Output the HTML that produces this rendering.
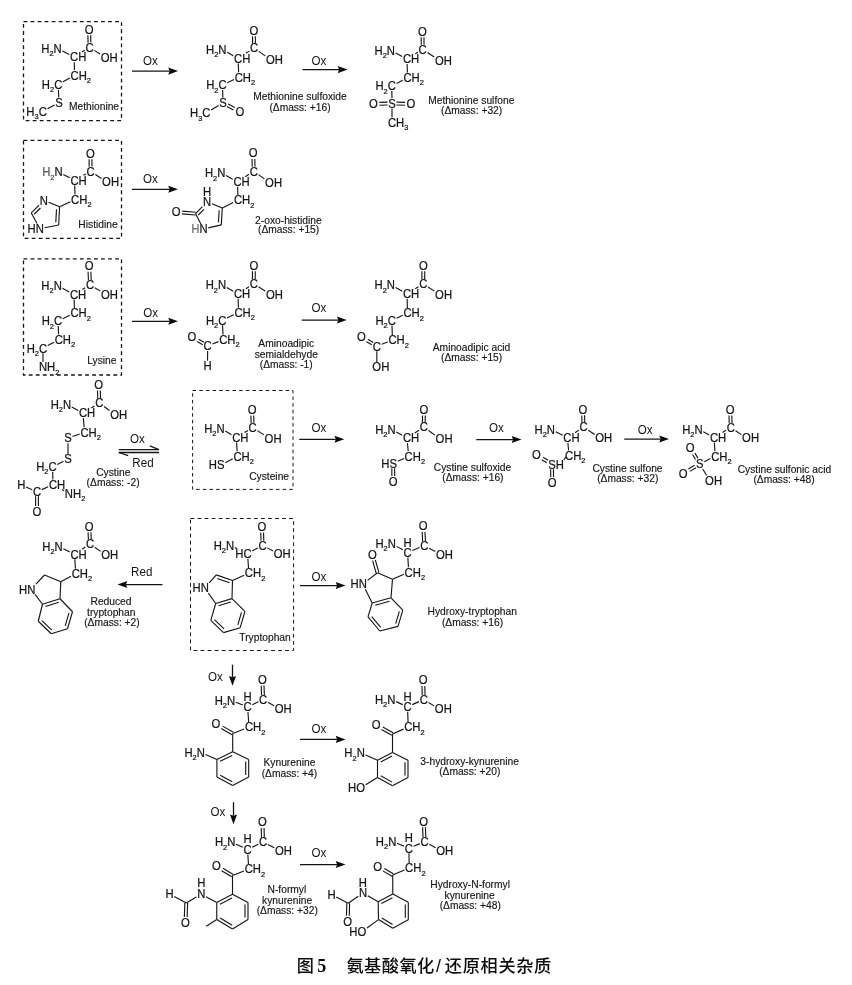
<!DOCTYPE html>
<html lang="zh">
<head>
<meta charset="utf-8">
<title>图5 氨基酸氧化/还原相关杂质</title>
<style>
html,body{margin:0;padding:0;background:#fff;}
body{width:852px;height:985px;overflow:hidden;}
svg{display:block;will-change:transform;}
svg line{stroke:#141414;stroke-linecap:butt;}
svg text{fill:#141414;font-family:"Liberation Sans","Noto Sans CJK SC",sans-serif;}
.a{font-size:11.3px;stroke:#141414;stroke-width:0.22px;}
.s{font-size:7.4px;}
.l{font-size:10.25px;stroke:#1a1a1a;stroke-width:0.15px;}
.o{font-size:11.6px;}
.fig{font-size:17.2px;font-weight:bold;fill:#0c0c0c;}
.cj.fig{font-weight:500;}
.cj{font-family:"Liberation Sans","Noto Sans CJK SC",sans-serif;}
.num{font-family:"Liberation Serif","Noto Serif CJK SC",serif;font-size:18px;}
.sl{font-family:"Liberation Sans","Noto Sans CJK SC",sans-serif;font-weight:normal;font-size:18px;}
</style>
</head>
<body>
<svg width="852" height="985" viewBox="0 0 852 985">
<line x1="90.87" y1="42.59" x2="90.67" y2="35.13" stroke-width="1.12"/>
<line x1="88.07" y1="42.67" x2="87.87" y2="35.21" stroke-width="1.12"/>
<line x1="84.82" y1="50.25" x2="82.04" y2="52.03" stroke-width="1.12"/>
<line x1="94.38" y1="50.35" x2="100" y2="54.05" stroke-width="1.12"/>
<line x1="62.38" y1="50.99" x2="69.32" y2="54.61" stroke-width="1.12"/>
<line x1="74.24" y1="62.17" x2="74.46" y2="70.13" stroke-width="1.12"/>
<line x1="69.82" y1="77.94" x2="62.98" y2="81.86" stroke-width="1.12"/>
<line x1="58.43" y1="89.67" x2="58.77" y2="97.43" stroke-width="1.12"/>
<line x1="54.53" y1="104.94" x2="47.48" y2="108.79" stroke-width="1.12"/>
<text class="a" transform="translate(84.7 33.57) scale(1 1.08)">O</text>
<text class="a" transform="translate(85.52 51.57) scale(1 1.08)">C</text>
<text class="a" transform="translate(41.25 52.87) scale(1 1.08)">H<tspan class="s" dy="2.9">2</tspan><tspan dy="-2.9">N</tspan></text>
<text class="a" transform="translate(70.02 61.47) scale(1 1.08)">CH</text>
<text class="a" transform="translate(100.7 61.77) scale(1 1.08)">OH</text>
<text class="a" transform="translate(70.52 79.57) scale(1 1.08)">CH<tspan class="s" dy="2.9">2</tspan></text>
<text class="a" transform="translate(41.85 88.97) scale(1 1.08)">H<tspan class="s" dy="2.9">2</tspan><tspan dy="-2.9">C</tspan></text>
<text class="a" transform="translate(55.23 106.87) scale(1 1.08)">S</text>
<text class="a" transform="translate(26.35 115.77) scale(1 1.08)">H<tspan class="s" dy="2.9">3</tspan><tspan dy="-2.9">C</tspan></text>
<line x1="255.37" y1="43.42" x2="255.33" y2="36.16" stroke-width="1.12"/>
<line x1="252.57" y1="43.44" x2="252.53" y2="36.18" stroke-width="1.12"/>
<line x1="249.22" y1="51.13" x2="245.85" y2="53.33" stroke-width="1.12"/>
<line x1="258.78" y1="51.37" x2="265.2" y2="55.9" stroke-width="1.12"/>
<line x1="227.18" y1="52.28" x2="233.32" y2="55.72" stroke-width="1.12"/>
<line x1="238.29" y1="63.47" x2="238.61" y2="72.23" stroke-width="1.12"/>
<line x1="234.02" y1="79.56" x2="227.28" y2="82.74" stroke-width="1.12"/>
<line x1="222.64" y1="90.07" x2="222.86" y2="97.73" stroke-width="1.12"/>
<line x1="218.53" y1="105.55" x2="211.18" y2="110.06" stroke-width="1.12"/>
<line x1="226.8" y1="106.45" x2="233.45" y2="110.05" stroke-width="1.12"/>
<line x1="228.13" y1="103.99" x2="234.78" y2="107.58" stroke-width="1.12"/>
<text class="a" transform="translate(249.5 34.57) scale(1 1.08)">O</text>
<text class="a" transform="translate(249.92 52.37) scale(1 1.08)">C</text>
<text class="a" transform="translate(206.05 53.97) scale(1 1.08)">H<tspan class="s" dy="2.9">2</tspan><tspan dy="-2.9">N</tspan></text>
<text class="a" transform="translate(234.02 62.77) scale(1 1.08)">CH</text>
<text class="a" transform="translate(265.9 63.87) scale(1 1.08)">OH</text>
<text class="a" transform="translate(234.72 81.67) scale(1 1.08)">CH<tspan class="s" dy="2.9">2</tspan></text>
<text class="a" transform="translate(206.15 89.37) scale(1 1.08)">H<tspan class="s" dy="2.9">2</tspan><tspan dy="-2.9">C</tspan></text>
<text class="a" transform="translate(219.23 107.17) scale(1 1.08)">S</text>
<text class="a" transform="translate(190.05 117.37) scale(1 1.08)">H<tspan class="s" dy="2.9">3</tspan><tspan dy="-2.9">C</tspan></text>
<text class="a" transform="translate(235.6 116.37) scale(1 1.08)">O</text>
<line x1="424.05" y1="44.72" x2="423.97" y2="37.2" stroke-width="1.12"/>
<line x1="421.25" y1="44.75" x2="421.17" y2="37.23" stroke-width="1.12"/>
<line x1="417.92" y1="52.22" x2="415.29" y2="53.83" stroke-width="1.12"/>
<line x1="427.48" y1="52.5" x2="434.2" y2="56.99" stroke-width="1.12"/>
<line x1="395.68" y1="52.99" x2="402.22" y2="56.41" stroke-width="1.12"/>
<line x1="407.13" y1="63.97" x2="407.37" y2="72.63" stroke-width="1.12"/>
<line x1="402.72" y1="80.23" x2="396.58" y2="83.47" stroke-width="1.12"/>
<line x1="391.86" y1="91.07" x2="391.94" y2="98.33" stroke-width="1.12"/>
<line x1="387.49" y1="102.14" x2="379.35" y2="102.41" stroke-width="1.12"/>
<line x1="387.58" y1="104.94" x2="379.44" y2="105.21" stroke-width="1.12"/>
<line x1="396.42" y1="104.94" x2="404.96" y2="105.21" stroke-width="1.12"/>
<line x1="396.51" y1="102.14" x2="405.05" y2="102.41" stroke-width="1.12"/>
<line x1="392" y1="108.47" x2="392" y2="117.43" stroke-width="1.12"/>
<text class="a" transform="translate(418.1 35.62) scale(1 1.08)">O</text>
<text class="a" transform="translate(418.62 53.67) scale(1 1.08)">C</text>
<text class="a" transform="translate(374.55 54.87) scale(1 1.08)">H<tspan class="s" dy="2.9">2</tspan><tspan dy="-2.9">N</tspan></text>
<text class="a" transform="translate(402.92 63.27) scale(1 1.08)">CH</text>
<text class="a" transform="translate(434.9 64.77) scale(1 1.08)">OH</text>
<text class="a" transform="translate(403.42 82.07) scale(1 1.08)">CH<tspan class="s" dy="2.9">2</tspan></text>
<text class="a" transform="translate(375.45 90.37) scale(1 1.08)">H<tspan class="s" dy="2.9">2</tspan><tspan dy="-2.9">C</tspan></text>
<text class="a" transform="translate(388.23 107.77) scale(1 1.08)">S</text>
<text class="a" transform="translate(369 108.37) scale(1 1.08)">O</text>
<text class="a" transform="translate(406.6 108.37) scale(1 1.08)">O</text>
<text class="a" transform="translate(387.92 126.87) scale(1 1.08)">CH<tspan class="s" dy="2.9">3</tspan></text>
<line x1="91.97" y1="166.62" x2="91.93" y2="159.16" stroke-width="1.12"/>
<line x1="89.17" y1="166.64" x2="89.13" y2="159.18" stroke-width="1.12"/>
<line x1="85.82" y1="173.9" x2="83.47" y2="175.23" stroke-width="1.12"/>
<line x1="95.38" y1="174.42" x2="101.4" y2="178.47" stroke-width="1.12"/>
<line x1="63.28" y1="174.48" x2="69.72" y2="177.82" stroke-width="1.12"/>
<line x1="74.68" y1="185.37" x2="75.02" y2="194.43" stroke-width="1.12"/>
<line x1="70.42" y1="201.74" x2="59.6" y2="206.8" stroke-width="1.12"/>
<line x1="59.6" y1="206.8" x2="48.68" y2="202.28" stroke-width="1.12"/>
<line x1="39.12" y1="205.08" x2="31.3" y2="212.9" stroke-width="1.12"/>
<line x1="40.46" y1="207.98" x2="34.2" y2="214.24" stroke-width="1.12"/>
<line x1="31.3" y1="212.9" x2="37.06" y2="223.53" stroke-width="1.12"/>
<line x1="44.58" y1="227.69" x2="58.7" y2="225" stroke-width="1.12"/>
<line x1="58.7" y1="225" x2="59.6" y2="206.8" stroke-width="1.12"/>
<line x1="55.83" y1="222.3" x2="56.48" y2="209.2" stroke-width="1.12"/>
<text class="a" transform="translate(86.1 157.57) scale(1 1.08)">O</text>
<text class="a" transform="translate(86.52 175.57) scale(1 1.08)">C</text>
<text class="a" transform="translate(42.15 176.37) scale(1 1.08)" fill="#111"><tspan fill="#7a7a7a">H</tspan><tspan fill="#7a7a7a" class="s" dy="2.9">2</tspan><tspan dy="-2.9">N</tspan></text>
<text class="a" transform="translate(70.42 184.67) scale(1 1.08)">CH</text>
<text class="a" transform="translate(102.1 186.27) scale(1 1.08)">OH</text>
<text class="a" transform="translate(71.12 203.87) scale(1 1.08)">CH<tspan class="s" dy="2.9">2</tspan></text>
<text class="a" transform="translate(39.82 204.67) scale(1 1.08)">N</text>
<text class="a" transform="translate(27.56 232.97) scale(1 1.08)">HN</text>
<line x1="255.02" y1="166.64" x2="254.81" y2="158.93" stroke-width="1.12"/>
<line x1="252.23" y1="166.72" x2="252.01" y2="159.01" stroke-width="1.12"/>
<line x1="248.97" y1="174.34" x2="245.34" y2="176.68" stroke-width="1.12"/>
<line x1="258.53" y1="174.66" x2="264.4" y2="178.86" stroke-width="1.12"/>
<line x1="226.03" y1="175.57" x2="232.72" y2="179.18" stroke-width="1.12"/>
<line x1="237.64" y1="186.82" x2="237.86" y2="194.93" stroke-width="1.12"/>
<line x1="233.22" y1="202.44" x2="222.3" y2="208" stroke-width="1.12"/>
<line x1="222.3" y1="208" x2="211.98" y2="203.76" stroke-width="1.12"/>
<line x1="202.42" y1="206.62" x2="195.5" y2="213.6" stroke-width="1.12"/>
<line x1="203.86" y1="209.43" x2="198.32" y2="215.01" stroke-width="1.12"/>
<line x1="195.5" y1="213.6" x2="200.87" y2="223.93" stroke-width="1.12"/>
<line x1="208.28" y1="227.9" x2="221.3" y2="224.9" stroke-width="1.12"/>
<line x1="221.3" y1="224.9" x2="222.3" y2="208" stroke-width="1.12"/>
<line x1="218.45" y1="222.36" x2="219.17" y2="210.19" stroke-width="1.12"/>
<line x1="195.62" y1="212.2" x2="182.21" y2="211.1" stroke-width="1.12"/>
<line x1="195.38" y1="215" x2="181.98" y2="213.89" stroke-width="1.12"/>
<text class="a" transform="translate(248.85 157.37) scale(1 1.08)">O</text>
<text class="a" transform="translate(249.67 175.62) scale(1 1.08)">C</text>
<text class="a" transform="translate(204.9 177.37) scale(1 1.08)">H<tspan class="s" dy="2.9">2</tspan><tspan dy="-2.9">N</tspan></text>
<text class="a" transform="translate(233.42 186.12) scale(1 1.08)">CH</text>
<text class="a" transform="translate(265.1 186.87) scale(1 1.08)">OH</text>
<text class="a" transform="translate(233.92 204.37) scale(1 1.08)">CH<tspan class="s" dy="2.9">2</tspan></text>
<text class="a" transform="translate(203.12 206.17) scale(1 1.08)">N</text>
<text class="a" transform="translate(191.26 233.37) scale(1 1.08)"><tspan fill="#9a9a9a">H</tspan>N</text>
<text class="a" transform="translate(171.7 216.37) scale(1 1.08)">O</text>
<text class="a" transform="translate(203.12 195.87) scale(1 1.08)">H</text>
<line x1="91.22" y1="280.18" x2="90.88" y2="271.71" stroke-width="1.12"/>
<line x1="88.42" y1="280.29" x2="88.09" y2="271.82" stroke-width="1.12"/>
<line x1="85.22" y1="287.7" x2="82.36" y2="289.43" stroke-width="1.12"/>
<line x1="94.78" y1="287.77" x2="100.2" y2="291.14" stroke-width="1.12"/>
<line x1="62.48" y1="288.28" x2="69.22" y2="291.92" stroke-width="1.12"/>
<line x1="74.14" y1="299.57" x2="74.36" y2="307.93" stroke-width="1.12"/>
<line x1="69.72" y1="315.32" x2="62.78" y2="318.68" stroke-width="1.12"/>
<line x1="58.21" y1="326.07" x2="58.54" y2="334.43" stroke-width="1.12"/>
<line x1="53.97" y1="342.14" x2="47.78" y2="345.56" stroke-width="1.12"/>
<line x1="43" y1="353.27" x2="43" y2="361.93" stroke-width="1.12"/>
<text class="a" transform="translate(84.85 270.17) scale(1 1.08)">O</text>
<text class="a" transform="translate(85.92 289.17) scale(1 1.08)">C</text>
<text class="a" transform="translate(41.35 290.07) scale(1 1.08)">H<tspan class="s" dy="2.9">2</tspan><tspan dy="-2.9">N</tspan></text>
<text class="a" transform="translate(69.92 298.87) scale(1 1.08)">CH</text>
<text class="a" transform="translate(100.9 298.67) scale(1 1.08)">OH</text>
<text class="a" transform="translate(70.42 317.37) scale(1 1.08)">CH<tspan class="s" dy="2.9">2</tspan></text>
<text class="a" transform="translate(41.65 325.37) scale(1 1.08)">H<tspan class="s" dy="2.9">2</tspan><tspan dy="-2.9">C</tspan></text>
<text class="a" transform="translate(54.67 343.87) scale(1 1.08)">CH<tspan class="s" dy="2.9">2</tspan></text>
<text class="a" transform="translate(26.65 352.57) scale(1 1.08)">H<tspan class="s" dy="2.9">2</tspan><tspan dy="-2.9">C</tspan></text>
<text class="a" transform="translate(38.92 371.37) scale(1 1.08)">NH<tspan class="s" dy="2.9">2</tspan></text>
<line x1="255.19" y1="279.19" x2="255.25" y2="271.28" stroke-width="1.12"/>
<line x1="252.39" y1="279.17" x2="252.45" y2="271.26" stroke-width="1.12"/>
<line x1="248.97" y1="286.78" x2="245.98" y2="288.68" stroke-width="1.12"/>
<line x1="258.53" y1="286.84" x2="265.3" y2="291.21" stroke-width="1.12"/>
<line x1="226.78" y1="287.61" x2="233.22" y2="291.14" stroke-width="1.12"/>
<line x1="238.14" y1="298.82" x2="238.36" y2="307.43" stroke-width="1.12"/>
<line x1="233.72" y1="314.77" x2="227.08" y2="317.93" stroke-width="1.12"/>
<line x1="222.55" y1="325.27" x2="223" y2="334.63" stroke-width="1.12"/>
<line x1="218.47" y1="341.64" x2="212.48" y2="344.06" stroke-width="1.12"/>
<line x1="204.05" y1="342.29" x2="198.57" y2="339.15" stroke-width="1.12"/>
<line x1="202.66" y1="344.72" x2="197.18" y2="341.58" stroke-width="1.12"/>
<line x1="207.65" y1="351.07" x2="207.55" y2="360.68" stroke-width="1.12"/>
<text class="a" transform="translate(249.5 269.67) scale(1 1.08)">O</text>
<text class="a" transform="translate(249.67 288.12) scale(1 1.08)">C</text>
<text class="a" transform="translate(205.65 289.37) scale(1 1.08)">H<tspan class="s" dy="2.9">2</tspan><tspan dy="-2.9">N</tspan></text>
<text class="a" transform="translate(233.92 298.12) scale(1 1.08)">CH</text>
<text class="a" transform="translate(266 298.87) scale(1 1.08)">OH</text>
<text class="a" transform="translate(234.42 316.87) scale(1 1.08)">CH<tspan class="s" dy="2.9">2</tspan></text>
<text class="a" transform="translate(205.95 324.57) scale(1 1.08)">H<tspan class="s" dy="2.9">2</tspan><tspan dy="-2.9">C</tspan></text>
<text class="a" transform="translate(219.17 344.07) scale(1 1.08)">CH<tspan class="s" dy="2.9">2</tspan></text>
<text class="a" transform="translate(203.62 350.37) scale(1 1.08)">C</text>
<text class="a" transform="translate(187.6 341.37) scale(1 1.08)">O</text>
<text class="a" transform="translate(203.42 370.12) scale(1 1.08)">H</text>
<line x1="424.69" y1="279.19" x2="424.75" y2="271.28" stroke-width="1.12"/>
<line x1="421.89" y1="279.17" x2="421.95" y2="271.26" stroke-width="1.12"/>
<line x1="418.47" y1="286.69" x2="415.24" y2="288.68" stroke-width="1.12"/>
<line x1="428.03" y1="286.91" x2="434.4" y2="291.13" stroke-width="1.12"/>
<line x1="395.68" y1="287.6" x2="402.22" y2="291.15" stroke-width="1.12"/>
<line x1="407.13" y1="298.82" x2="407.37" y2="307.93" stroke-width="1.12"/>
<line x1="402.72" y1="315.25" x2="396.58" y2="318.15" stroke-width="1.12"/>
<line x1="391.98" y1="325.47" x2="392.32" y2="334.93" stroke-width="1.12"/>
<line x1="387.72" y1="341.9" x2="381.68" y2="344.3" stroke-width="1.12"/>
<line x1="373.26" y1="342.43" x2="367.88" y2="339.26" stroke-width="1.12"/>
<line x1="371.84" y1="344.84" x2="366.46" y2="341.67" stroke-width="1.12"/>
<line x1="376.86" y1="351.27" x2="376.79" y2="361.93" stroke-width="1.12"/>
<text class="a" transform="translate(419 269.67) scale(1 1.08)">O</text>
<text class="a" transform="translate(419.17 288.12) scale(1 1.08)">C</text>
<text class="a" transform="translate(374.55 289.37) scale(1 1.08)">H<tspan class="s" dy="2.9">2</tspan><tspan dy="-2.9">N</tspan></text>
<text class="a" transform="translate(402.92 298.12) scale(1 1.08)">CH</text>
<text class="a" transform="translate(435.1 298.87) scale(1 1.08)">OH</text>
<text class="a" transform="translate(403.42 317.37) scale(1 1.08)">CH<tspan class="s" dy="2.9">2</tspan></text>
<text class="a" transform="translate(375.45 324.77) scale(1 1.08)">H<tspan class="s" dy="2.9">2</tspan><tspan dy="-2.9">C</tspan></text>
<text class="a" transform="translate(388.42 344.37) scale(1 1.08)">CH<tspan class="s" dy="2.9">2</tspan></text>
<text class="a" transform="translate(372.82 350.57) scale(1 1.08)">C</text>
<text class="a" transform="translate(356.9 341.37) scale(1 1.08)">O</text>
<text class="a" transform="translate(372.35 371.37) scale(1 1.08)">OH</text>
<line x1="100.53" y1="398.39" x2="100.31" y2="390.43" stroke-width="1.12"/>
<line x1="97.73" y1="398.47" x2="97.51" y2="390.51" stroke-width="1.12"/>
<line x1="94.47" y1="405.94" x2="91.24" y2="407.93" stroke-width="1.12"/>
<line x1="104.03" y1="406.5" x2="109.5" y2="410.52" stroke-width="1.12"/>
<line x1="71.78" y1="407.11" x2="78.22" y2="410.49" stroke-width="1.12"/>
<line x1="83.39" y1="418.07" x2="84.11" y2="427.23" stroke-width="1.12"/>
<line x1="79.72" y1="433.98" x2="72.47" y2="436.53" stroke-width="1.12"/>
<line x1="68" y1="443.17" x2="68" y2="453.93" stroke-width="1.12"/>
<line x1="63.53" y1="461.25" x2="57.28" y2="464.39" stroke-width="1.12"/>
<line x1="52.64" y1="471.87" x2="52.86" y2="479.43" stroke-width="1.12"/>
<line x1="61.86" y1="489.57" x2="64.12" y2="490.86" stroke-width="1.12"/>
<line x1="48.22" y1="486.68" x2="41.78" y2="489.62" stroke-width="1.12"/>
<line x1="32.22" y1="489.74" x2="26.03" y2="487.06" stroke-width="1.12"/>
<line x1="35.6" y1="496.37" x2="35.6" y2="506.03" stroke-width="1.12"/>
<line x1="38.4" y1="496.37" x2="38.4" y2="506.03" stroke-width="1.12"/>
<text class="a" transform="translate(94.35 388.87) scale(1 1.08)">O</text>
<text class="a" transform="translate(95.17 407.37) scale(1 1.08)">C</text>
<text class="a" transform="translate(50.65 408.97) scale(1 1.08)">H<tspan class="s" dy="2.9">2</tspan><tspan dy="-2.9">N</tspan></text>
<text class="a" transform="translate(78.92 417.37) scale(1 1.08)">CH</text>
<text class="a" transform="translate(110.2 418.62) scale(1 1.08)">OH</text>
<text class="a" transform="translate(80.42 436.67) scale(1 1.08)">CH<tspan class="s" dy="2.9">2</tspan></text>
<text class="a" transform="translate(64.23 442.47) scale(1 1.08)">S</text>
<text class="a" transform="translate(64.23 463.37) scale(1 1.08)">S</text>
<text class="a" transform="translate(36.15 471.17) scale(1 1.08)">H<tspan class="s" dy="2.9">2</tspan><tspan dy="-2.9">C</tspan></text>
<text class="a" transform="translate(48.92 488.87) scale(1 1.08)">CH</text>
<text class="a" transform="translate(64.82 497.97) scale(1 1.08)">NH<tspan class="s" dy="2.9">2</tspan></text>
<text class="a" transform="translate(32.92 496.17) scale(1 1.08)">C</text>
<text class="a" transform="translate(17.17 489.37) scale(1 1.08)">H</text>
<text class="a" transform="translate(32.6 516.37) scale(1 1.08)">O</text>
<line x1="253.95" y1="422.88" x2="253.7" y2="415.52" stroke-width="1.12"/>
<line x1="251.15" y1="422.98" x2="250.9" y2="415.62" stroke-width="1.12"/>
<line x1="247.92" y1="430.41" x2="244.59" y2="432.43" stroke-width="1.12"/>
<line x1="257.48" y1="430.64" x2="263.9" y2="434.85" stroke-width="1.12"/>
<line x1="225.28" y1="431.09" x2="231.47" y2="434.71" stroke-width="1.12"/>
<line x1="236.59" y1="442.57" x2="237.16" y2="451.18" stroke-width="1.12"/>
<line x1="232.72" y1="458.75" x2="225.22" y2="462.67" stroke-width="1.12"/>
<text class="a" transform="translate(247.7 413.97) scale(1 1.08)">O</text>
<text class="a" transform="translate(248.62 431.87) scale(1 1.08)">C</text>
<text class="a" transform="translate(204.15 432.67) scale(1 1.08)">H<tspan class="s" dy="2.9">2</tspan><tspan dy="-2.9">N</tspan></text>
<text class="a" transform="translate(232.17 441.87) scale(1 1.08)">CH</text>
<text class="a" transform="translate(264.6 442.57) scale(1 1.08)">OH</text>
<text class="a" transform="translate(233.42 460.62) scale(1 1.08)">CH<tspan class="s" dy="2.9">2</tspan></text>
<text class="a" transform="translate(208.82 469.37) scale(1 1.08)">HS</text>
<line x1="425.19" y1="422.54" x2="425.25" y2="415.48" stroke-width="1.12"/>
<line x1="422.39" y1="422.52" x2="422.45" y2="415.46" stroke-width="1.12"/>
<line x1="418.97" y1="430.24" x2="414.72" y2="433.03" stroke-width="1.12"/>
<line x1="428.53" y1="430.53" x2="434.9" y2="435.1" stroke-width="1.12"/>
<line x1="396.28" y1="431.94" x2="402.22" y2="435.36" stroke-width="1.12"/>
<line x1="407.47" y1="443.17" x2="408.23" y2="451.18" stroke-width="1.12"/>
<line x1="403.92" y1="458.42" x2="397.72" y2="461.23" stroke-width="1.12"/>
<line x1="391.85" y1="468.32" x2="391.85" y2="476.03" stroke-width="1.12"/>
<line x1="394.65" y1="468.32" x2="394.65" y2="476.03" stroke-width="1.12"/>
<text class="a" transform="translate(419.5 413.87) scale(1 1.08)">O</text>
<text class="a" transform="translate(419.67 431.47) scale(1 1.08)">C</text>
<text class="a" transform="translate(375.15 433.57) scale(1 1.08)">H<tspan class="s" dy="2.9">2</tspan><tspan dy="-2.9">N</tspan></text>
<text class="a" transform="translate(402.92 442.47) scale(1 1.08)">CH</text>
<text class="a" transform="translate(435.6 443.12) scale(1 1.08)">OH</text>
<text class="a" transform="translate(404.62 460.62) scale(1 1.08)">CH<tspan class="s" dy="2.9">2</tspan></text>
<text class="a" transform="translate(381.32 467.62) scale(1 1.08)">HS</text>
<text class="a" transform="translate(388.85 486.37) scale(1 1.08)">O</text>
<line x1="584.77" y1="422.49" x2="584.57" y2="415.33" stroke-width="1.12"/>
<line x1="581.97" y1="422.57" x2="581.77" y2="415.41" stroke-width="1.12"/>
<line x1="578.72" y1="430.28" x2="575.03" y2="432.73" stroke-width="1.12"/>
<line x1="588.28" y1="430.32" x2="594.6" y2="434.57" stroke-width="1.12"/>
<line x1="555.68" y1="431.76" x2="562.62" y2="435.34" stroke-width="1.12"/>
<line x1="567.88" y1="442.87" x2="568.62" y2="450.53" stroke-width="1.12"/>
<line x1="548.25" y1="460.34" x2="543.08" y2="457.28" stroke-width="1.12"/>
<line x1="546.82" y1="462.75" x2="541.66" y2="459.69" stroke-width="1.12"/>
<line x1="550.65" y1="469.28" x2="550.74" y2="477.15" stroke-width="1.12"/>
<line x1="553.45" y1="469.25" x2="553.54" y2="477.12" stroke-width="1.12"/>
<text class="a" transform="translate(578.6 413.77) scale(1 1.08)">O</text>
<text class="a" transform="translate(579.42 431.47) scale(1 1.08)">C</text>
<text class="a" transform="translate(534.55 433.67) scale(1 1.08)">H<tspan class="s" dy="2.9">2</tspan><tspan dy="-2.9">N</tspan></text>
<text class="a" transform="translate(563.32 442.17) scale(1 1.08)">CH</text>
<text class="a" transform="translate(595.3 442.37) scale(1 1.08)">OH</text>
<text class="a" transform="translate(565.02 459.97) scale(1 1.08)">CH<tspan class="s" dy="2.9">2</tspan></text>
<text class="a" transform="translate(548.23 468.57) scale(1 1.08)">SH</text>
<text class="a" transform="translate(532.1 459.37) scale(1 1.08)">O</text>
<text class="a" transform="translate(547.8 487.47) scale(1 1.08)">O</text>
<line x1="563.7" y1="459.8" x2="566.1" y2="456.9" stroke-width="1.12"/>
<line x1="732.02" y1="422.89" x2="731.82" y2="415.43" stroke-width="1.12"/>
<line x1="729.22" y1="422.97" x2="729.02" y2="415.51" stroke-width="1.12"/>
<line x1="725.97" y1="430.35" x2="722.49" y2="432.43" stroke-width="1.12"/>
<line x1="735.53" y1="430.69" x2="741.4" y2="434.6" stroke-width="1.12"/>
<line x1="703.28" y1="431.79" x2="709.22" y2="434.96" stroke-width="1.12"/>
<line x1="714.34" y1="442.57" x2="714.91" y2="451.18" stroke-width="1.12"/>
<line x1="710.47" y1="458.61" x2="704.22" y2="461.69" stroke-width="1.12"/>
<line x1="697.92" y1="458.11" x2="694.94" y2="453.12" stroke-width="1.12"/>
<line x1="695.52" y1="459.55" x2="692.54" y2="454.56" stroke-width="1.12"/>
<line x1="694.57" y1="465.31" x2="688.36" y2="468.95" stroke-width="1.12"/>
<line x1="695.99" y1="467.73" x2="689.78" y2="471.37" stroke-width="1.12"/>
<line x1="702.75" y1="468.97" x2="706.5" y2="475.33" stroke-width="1.12"/>
<text class="a" transform="translate(725.85 413.87) scale(1 1.08)">O</text>
<text class="a" transform="translate(726.67 431.87) scale(1 1.08)">C</text>
<text class="a" transform="translate(682.15 433.62) scale(1 1.08)">H<tspan class="s" dy="2.9">2</tspan><tspan dy="-2.9">N</tspan></text>
<text class="a" transform="translate(709.92 441.87) scale(1 1.08)">CH</text>
<text class="a" transform="translate(742.1 442.37) scale(1 1.08)">OH</text>
<text class="a" transform="translate(711.17 460.62) scale(1 1.08)">CH<tspan class="s" dy="2.9">2</tspan></text>
<text class="a" transform="translate(695.98 468.27) scale(1 1.08)">S</text>
<text class="a" transform="translate(685.85 452.37) scale(1 1.08)">O</text>
<text class="a" transform="translate(678.8 477.97) scale(1 1.08)">O</text>
<text class="a" transform="translate(705.1 484.77) scale(1 1.08)">OH</text>
<line x1="91.2" y1="539.27" x2="90.9" y2="532.16" stroke-width="1.12"/>
<line x1="88.41" y1="539.39" x2="88.1" y2="532.28" stroke-width="1.12"/>
<line x1="85.22" y1="547.09" x2="82.09" y2="549.18" stroke-width="1.12"/>
<line x1="94.78" y1="547.28" x2="100.6" y2="551.4" stroke-width="1.12"/>
<line x1="63.38" y1="548.83" x2="69.72" y2="551.92" stroke-width="1.12"/>
<line x1="74.82" y1="559.32" x2="75.43" y2="568.68" stroke-width="1.12"/>
<line x1="70.97" y1="576.3" x2="60.75" y2="581.75" stroke-width="1.12"/>
<line x1="60.75" y1="581.75" x2="44.5" y2="575" stroke-width="1.12"/>
<line x1="44.5" y1="575" x2="35.96" y2="584.18" stroke-width="1.12"/>
<line x1="35.05" y1="594.32" x2="42.5" y2="604.25" stroke-width="1.12"/>
<line x1="42.5" y1="604.25" x2="60" y2="598.75" stroke-width="1.12"/>
<line x1="45.5" y1="606.45" x2="58.8" y2="602.27" stroke-width="1.12"/>
<line x1="60" y1="598.75" x2="60.75" y2="581.75" stroke-width="1.12"/>
<line x1="60" y1="598.75" x2="72.5" y2="611.75" stroke-width="1.12"/>
<line x1="72.5" y1="611.75" x2="67.5" y2="628.75" stroke-width="1.12"/>
<line x1="69.02" y1="612.94" x2="65.22" y2="625.86" stroke-width="1.12"/>
<line x1="67.5" y1="628.75" x2="51.25" y2="633.75" stroke-width="1.12"/>
<line x1="51.25" y1="633.75" x2="38.25" y2="621.25" stroke-width="1.12"/>
<line x1="51.77" y1="630.09" x2="41.89" y2="620.59" stroke-width="1.12"/>
<line x1="38.25" y1="621.25" x2="42.5" y2="604.25" stroke-width="1.12"/>
<text class="a" transform="translate(84.85 530.62) scale(1 1.08)">O</text>
<text class="a" transform="translate(85.92 548.27) scale(1 1.08)">C</text>
<text class="a" transform="translate(42.25 550.87) scale(1 1.08)">H<tspan class="s" dy="2.9">2</tspan><tspan dy="-2.9">N</tspan></text>
<text class="a" transform="translate(70.42 558.62) scale(1 1.08)">CH</text>
<text class="a" transform="translate(101.3 559.37) scale(1 1.08)">OH</text>
<text class="a" transform="translate(71.67 578.12) scale(1 1.08)">CH<tspan class="s" dy="2.9">2</tspan></text>
<text class="a" transform="translate(19.01 593.62) scale(1 1.08)">HN</text>
<line x1="263.78" y1="540.69" x2="263.56" y2="532.43" stroke-width="1.12"/>
<line x1="260.98" y1="540.77" x2="260.76" y2="532.51" stroke-width="1.12"/>
<line x1="257.72" y1="547.99" x2="252.28" y2="551.06" stroke-width="1.12"/>
<line x1="267.28" y1="547.87" x2="273.1" y2="551.01" stroke-width="1.12"/>
<line x1="234.78" y1="547.54" x2="237.12" y2="548.68" stroke-width="1.12"/>
<line x1="247.87" y1="558.82" x2="248.53" y2="567.93" stroke-width="1.12"/>
<line x1="244.12" y1="575.19" x2="232.5" y2="580.5" stroke-width="1.12"/>
<line x1="216.3" y1="574.9" x2="232.5" y2="580.5" stroke-width="1.12"/>
<line x1="217.26" y1="578.41" x2="229.58" y2="582.66" stroke-width="1.12"/>
<line x1="216.3" y1="574.9" x2="209.25" y2="582.93" stroke-width="1.12"/>
<line x1="208.36" y1="593.07" x2="215.7" y2="603.5" stroke-width="1.12"/>
<line x1="215.7" y1="603.5" x2="232" y2="598.6" stroke-width="1.12"/>
<line x1="218.52" y1="605.78" x2="230.91" y2="602.06" stroke-width="1.12"/>
<line x1="232" y1="598.6" x2="232.5" y2="580.5" stroke-width="1.12"/>
<line x1="232" y1="598.6" x2="244.9" y2="611.3" stroke-width="1.12"/>
<line x1="244.9" y1="611.3" x2="240.2" y2="627.7" stroke-width="1.12"/>
<line x1="241.45" y1="612.44" x2="237.88" y2="624.91" stroke-width="1.12"/>
<line x1="240.2" y1="627.7" x2="223.5" y2="632.6" stroke-width="1.12"/>
<line x1="223.5" y1="632.6" x2="210.8" y2="620.3" stroke-width="1.12"/>
<line x1="224.06" y1="628.97" x2="214.41" y2="619.62" stroke-width="1.12"/>
<line x1="210.8" y1="620.3" x2="215.7" y2="603.5" stroke-width="1.12"/>
<text class="a" transform="translate(257.6 530.87) scale(1 1.08)">O</text>
<text class="a" transform="translate(258.42 549.67) scale(1 1.08)">C</text>
<text class="a" transform="translate(213.65 549.57) scale(1 1.08)">H<tspan class="s" dy="2.9">2</tspan><tspan dy="-2.9">N</tspan></text>
<text class="a" transform="translate(235.26 558.12) scale(1 1.08)">HC</text>
<text class="a" transform="translate(273.8 558.12) scale(1 1.08)">OH</text>
<text class="a" transform="translate(244.82 577.37) scale(1 1.08)">CH<tspan class="s" dy="2.9">2</tspan></text>
<text class="a" transform="translate(192.56 592.37) scale(1 1.08)">HN</text>
<line x1="425.45" y1="541.06" x2="424.97" y2="531.89" stroke-width="1.12"/>
<line x1="422.66" y1="541.2" x2="422.17" y2="532.04" stroke-width="1.12"/>
<line x1="419.52" y1="547.59" x2="412.38" y2="550.41" stroke-width="1.12"/>
<line x1="429.08" y1="548.25" x2="435.2" y2="551.53" stroke-width="1.12"/>
<line x1="396.58" y1="546.37" x2="402.82" y2="549.73" stroke-width="1.12"/>
<line x1="407.88" y1="557.37" x2="408.42" y2="567.23" stroke-width="1.12"/>
<line x1="403.92" y1="574.34" x2="392.5" y2="579.2" stroke-width="1.12"/>
<line x1="392.5" y1="579.2" x2="377.5" y2="572.8" stroke-width="1.12"/>
<line x1="378.85" y1="572.42" x2="375.31" y2="559.81" stroke-width="1.12"/>
<line x1="376.15" y1="573.18" x2="372.62" y2="560.56" stroke-width="1.12"/>
<line x1="377.5" y1="572.8" x2="367.58" y2="580.43" stroke-width="1.12"/>
<line x1="365.32" y1="589.17" x2="372.2" y2="603" stroke-width="1.12"/>
<line x1="372.2" y1="603" x2="391" y2="597.8" stroke-width="1.12"/>
<line x1="375.26" y1="605.27" x2="389.54" y2="601.32" stroke-width="1.12"/>
<line x1="391" y1="597.8" x2="392.5" y2="579.2" stroke-width="1.12"/>
<line x1="391" y1="597.8" x2="402.8" y2="610.2" stroke-width="1.12"/>
<line x1="402.8" y1="610.2" x2="398" y2="626.4" stroke-width="1.12"/>
<line x1="399.35" y1="611.29" x2="395.7" y2="623.6" stroke-width="1.12"/>
<line x1="398" y1="626.4" x2="379.8" y2="631" stroke-width="1.12"/>
<line x1="379.8" y1="631" x2="368" y2="616.8" stroke-width="1.12"/>
<line x1="380.69" y1="627.38" x2="371.72" y2="616.59" stroke-width="1.12"/>
<line x1="368" y1="616.8" x2="372.2" y2="603" stroke-width="1.12"/>
<text class="a" transform="translate(418.85 530.37) scale(1 1.08)">O</text>
<text class="a" transform="translate(420.22 550.07) scale(1 1.08)">C</text>
<text class="a" transform="translate(375.45 548.17) scale(1 1.08)">H<tspan class="s" dy="2.9">2</tspan><tspan dy="-2.9">N</tspan></text>
<text class="a" transform="translate(403.52 556.67) scale(1 1.08)">C</text>
<text class="a" transform="translate(435.9 558.62) scale(1 1.08)">OH</text>
<text class="a" transform="translate(404.62 576.67) scale(1 1.08)">CH<tspan class="s" dy="2.9">2</tspan></text>
<text class="a" transform="translate(403.52 546.57) scale(1 1.08)">H</text>
<text class="a" transform="translate(367.9 558.62) scale(1 1.08)">O</text>
<text class="a" transform="translate(350.56 588.47) scale(1 1.08)">HN</text>
<line x1="264.34" y1="694.98" x2="264.01" y2="685.52" stroke-width="1.12"/>
<line x1="261.54" y1="695.08" x2="261.21" y2="685.62" stroke-width="1.12"/>
<line x1="258.32" y1="701.85" x2="252.38" y2="704.65" stroke-width="1.12"/>
<line x1="267.88" y1="702.24" x2="274.1" y2="705.68" stroke-width="1.12"/>
<line x1="235.78" y1="702.2" x2="242.82" y2="705" stroke-width="1.12"/>
<line x1="247.95" y1="711.97" x2="248.65" y2="721.93" stroke-width="1.12"/>
<line x1="244.22" y1="728.91" x2="232.7" y2="733.5" stroke-width="1.12"/>
<line x1="233.39" y1="732.28" x2="222.57" y2="726.13" stroke-width="1.12"/>
<line x1="232.01" y1="734.72" x2="221.19" y2="728.56" stroke-width="1.12"/>
<line x1="232.7" y1="733.5" x2="232.7" y2="751.8" stroke-width="1.12"/>
<line x1="232.7" y1="751.8" x2="216.9" y2="759.4" stroke-width="1.12"/>
<line x1="232.1" y1="755.42" x2="220.1" y2="761.19" stroke-width="1.12"/>
<line x1="216.9" y1="759.4" x2="216.9" y2="777" stroke-width="1.12"/>
<line x1="216.9" y1="777" x2="232.7" y2="785.4" stroke-width="1.12"/>
<line x1="220.2" y1="775.36" x2="232.21" y2="781.74" stroke-width="1.12"/>
<line x1="232.7" y1="785.4" x2="248.7" y2="777" stroke-width="1.12"/>
<line x1="248.7" y1="777" x2="248.7" y2="759.4" stroke-width="1.12"/>
<line x1="245.7" y1="774.89" x2="245.7" y2="761.51" stroke-width="1.12"/>
<line x1="248.7" y1="759.4" x2="232.7" y2="751.8" stroke-width="1.12"/>
<line x1="216.9" y1="759.4" x2="205.58" y2="754.55" stroke-width="1.12"/>
<text class="a" transform="translate(258 683.97) scale(1 1.08)">O</text>
<text class="a" transform="translate(259.02 703.97) scale(1 1.08)">C</text>
<text class="a" transform="translate(214.65 704.67) scale(1 1.08)">H<tspan class="s" dy="2.9">2</tspan><tspan dy="-2.9">N</tspan></text>
<text class="a" transform="translate(243.52 711.27) scale(1 1.08)">C</text>
<text class="a" transform="translate(274.8 712.87) scale(1 1.08)">OH</text>
<text class="a" transform="translate(244.92 731.37) scale(1 1.08)">CH<tspan class="s" dy="2.9">2</tspan></text>
<text class="a" transform="translate(243.52 700.77) scale(1 1.08)">H</text>
<text class="a" transform="translate(211.6 728.37) scale(1 1.08)">O</text>
<text class="a" transform="translate(184.45 756.87) scale(1 1.08)">H<tspan class="s" dy="2.9">2</tspan><tspan dy="-2.9">N</tspan></text>
<line x1="425.03" y1="694.89" x2="424.8" y2="685.93" stroke-width="1.12"/>
<line x1="422.23" y1="694.97" x2="422" y2="686" stroke-width="1.12"/>
<line x1="418.97" y1="701.63" x2="412.28" y2="704.62" stroke-width="1.12"/>
<line x1="428.53" y1="702.43" x2="434.15" y2="705.88" stroke-width="1.12"/>
<line x1="396.03" y1="701.63" x2="402.72" y2="704.62" stroke-width="1.12"/>
<line x1="407.69" y1="711.82" x2="408.06" y2="721.93" stroke-width="1.12"/>
<line x1="403.47" y1="729.12" x2="392.5" y2="734" stroke-width="1.12"/>
<line x1="393.18" y1="732.78" x2="382.81" y2="727.03" stroke-width="1.12"/>
<line x1="391.82" y1="735.22" x2="381.45" y2="729.48" stroke-width="1.12"/>
<line x1="392.5" y1="734" x2="392.5" y2="752.5" stroke-width="1.12"/>
<line x1="392.5" y1="752.5" x2="377.5" y2="760.2" stroke-width="1.12"/>
<line x1="392.07" y1="756.09" x2="380.67" y2="761.94" stroke-width="1.12"/>
<line x1="377.5" y1="760.2" x2="377.5" y2="777.5" stroke-width="1.12"/>
<line x1="377.5" y1="777.5" x2="392.5" y2="785.75" stroke-width="1.12"/>
<line x1="380.75" y1="775.86" x2="392.15" y2="782.13" stroke-width="1.12"/>
<line x1="392.5" y1="785.75" x2="408" y2="777.5" stroke-width="1.12"/>
<line x1="408" y1="777.5" x2="408" y2="760.2" stroke-width="1.12"/>
<line x1="405" y1="775.42" x2="405" y2="762.28" stroke-width="1.12"/>
<line x1="408" y1="760.2" x2="392.5" y2="752.5" stroke-width="1.12"/>
<line x1="377.5" y1="760.2" x2="365.48" y2="755.05" stroke-width="1.12"/>
<line x1="377.5" y1="777.5" x2="365.7" y2="784.83" stroke-width="1.12"/>
<text class="a" transform="translate(418.85 684.37) scale(1 1.08)">O</text>
<text class="a" transform="translate(419.67 703.87) scale(1 1.08)">C</text>
<text class="a" transform="translate(374.9 703.87) scale(1 1.08)">H<tspan class="s" dy="2.9">2</tspan><tspan dy="-2.9">N</tspan></text>
<text class="a" transform="translate(403.42 711.12) scale(1 1.08)">C</text>
<text class="a" transform="translate(434.85 713.37) scale(1 1.08)">OH</text>
<text class="a" transform="translate(404.17 731.37) scale(1 1.08)">CH<tspan class="s" dy="2.9">2</tspan></text>
<text class="a" transform="translate(403.42 700.77) scale(1 1.08)">H</text>
<text class="a" transform="translate(371.85 729.37) scale(1 1.08)">O</text>
<text class="a" transform="translate(344.35 757.37) scale(1 1.08)">H<tspan class="s" dy="2.9">2</tspan><tspan dy="-2.9">N</tspan></text>
<text class="a" transform="translate(348.05 792.37) scale(1 1.08)">HO</text>
<line x1="264.29" y1="837.4" x2="264.05" y2="827.93" stroke-width="1.12"/>
<line x1="261.49" y1="837.47" x2="261.25" y2="828" stroke-width="1.12"/>
<line x1="258.22" y1="844.28" x2="252.28" y2="847.12" stroke-width="1.12"/>
<line x1="267.78" y1="844.48" x2="274.3" y2="847.86" stroke-width="1.12"/>
<line x1="236.03" y1="844.18" x2="242.72" y2="847.22" stroke-width="1.12"/>
<line x1="247.82" y1="854.47" x2="248.43" y2="863.93" stroke-width="1.12"/>
<line x1="243.97" y1="870.94" x2="232.5" y2="875.6" stroke-width="1.12"/>
<line x1="233.22" y1="874.4" x2="222.99" y2="868.3" stroke-width="1.12"/>
<line x1="231.78" y1="876.8" x2="221.55" y2="870.7" stroke-width="1.12"/>
<line x1="232.5" y1="875.6" x2="232.5" y2="894.3" stroke-width="1.12"/>
<line x1="232.5" y1="894.3" x2="216.75" y2="902.5" stroke-width="1.12"/>
<line x1="232" y1="897.94" x2="220.03" y2="904.18" stroke-width="1.12"/>
<line x1="216.75" y1="902.5" x2="216.75" y2="919.5" stroke-width="1.12"/>
<line x1="216.75" y1="919.5" x2="232.5" y2="929" stroke-width="1.12"/>
<line x1="220.19" y1="918.07" x2="232.16" y2="925.29" stroke-width="1.12"/>
<line x1="232.5" y1="929" x2="248" y2="919.5" stroke-width="1.12"/>
<line x1="248" y1="919.5" x2="248" y2="902.5" stroke-width="1.12"/>
<line x1="245" y1="917.46" x2="245" y2="904.54" stroke-width="1.12"/>
<line x1="248" y1="902.5" x2="232.5" y2="894.3" stroke-width="1.12"/>
<line x1="216.75" y1="902.5" x2="206.03" y2="896.69" stroke-width="1.12"/>
<line x1="196.47" y1="896.94" x2="186.25" y2="903" stroke-width="1.12"/>
<line x1="186.25" y1="903" x2="174.28" y2="896.39" stroke-width="1.12"/>
<line x1="184.85" y1="902.95" x2="184.32" y2="916.98" stroke-width="1.12"/>
<line x1="187.65" y1="903.05" x2="187.12" y2="917.08" stroke-width="1.12"/>
<line x1="216.75" y1="919.5" x2="206.25" y2="926.25" stroke-width="1.12"/>
<text class="a" transform="translate(258.1 826.37) scale(1 1.08)">O</text>
<text class="a" transform="translate(258.92 846.37) scale(1 1.08)">C</text>
<text class="a" transform="translate(214.9 846.37) scale(1 1.08)">H<tspan class="s" dy="2.9">2</tspan><tspan dy="-2.9">N</tspan></text>
<text class="a" transform="translate(243.42 853.77) scale(1 1.08)">C</text>
<text class="a" transform="translate(275 854.87) scale(1 1.08)">OH</text>
<text class="a" transform="translate(244.67 873.37) scale(1 1.08)">CH<tspan class="s" dy="2.9">2</tspan></text>
<text class="a" transform="translate(243.42 843.37) scale(1 1.08)">H</text>
<text class="a" transform="translate(212 870.37) scale(1 1.08)">O</text>
<text class="a" transform="translate(197.17 898.47) scale(1 1.08)">N</text>
<text class="a" transform="translate(197.17 887.07) scale(1 1.08)">H</text>
<text class="a" transform="translate(165.42 898.12) scale(1 1.08)">H</text>
<text class="a" transform="translate(181.1 927.37) scale(1 1.08)">O</text>
<line x1="425.81" y1="836.97" x2="425.4" y2="827.16" stroke-width="1.12"/>
<line x1="423.01" y1="837.09" x2="422.6" y2="827.28" stroke-width="1.12"/>
<line x1="419.82" y1="843.61" x2="413.68" y2="846.19" stroke-width="1.12"/>
<line x1="429.38" y1="844.26" x2="435.5" y2="847.67" stroke-width="1.12"/>
<line x1="396.98" y1="843.24" x2="404.12" y2="846.21" stroke-width="1.12"/>
<line x1="408.98" y1="853.27" x2="409.12" y2="862.93" stroke-width="1.12"/>
<line x1="404.42" y1="870.03" x2="392.7" y2="875" stroke-width="1.12"/>
<line x1="393.41" y1="873.79" x2="384.28" y2="868.47" stroke-width="1.12"/>
<line x1="391.99" y1="876.21" x2="382.87" y2="870.89" stroke-width="1.12"/>
<line x1="392.7" y1="875" x2="392.8" y2="894.1" stroke-width="1.12"/>
<line x1="392.8" y1="894.1" x2="378.2" y2="901.8" stroke-width="1.12"/>
<line x1="392.45" y1="897.68" x2="381.35" y2="903.53" stroke-width="1.12"/>
<line x1="378.2" y1="901.8" x2="378.5" y2="919.6" stroke-width="1.12"/>
<line x1="378.5" y1="919.6" x2="392.8" y2="928.2" stroke-width="1.12"/>
<line x1="381.76" y1="918.06" x2="392.63" y2="924.6" stroke-width="1.12"/>
<line x1="392.8" y1="928.2" x2="408.3" y2="919.8" stroke-width="1.12"/>
<line x1="408.3" y1="919.8" x2="408.3" y2="902.3" stroke-width="1.12"/>
<line x1="405.3" y1="917.7" x2="405.3" y2="904.4" stroke-width="1.12"/>
<line x1="408.3" y1="902.3" x2="392.8" y2="894.1" stroke-width="1.12"/>
<line x1="378.2" y1="901.8" x2="367.78" y2="895.77" stroke-width="1.12"/>
<line x1="358.22" y1="896.33" x2="348.2" y2="903.3" stroke-width="1.12"/>
<line x1="348.2" y1="903.3" x2="336.28" y2="897.02" stroke-width="1.12"/>
<line x1="346.8" y1="903.26" x2="346.46" y2="915.69" stroke-width="1.12"/>
<line x1="349.6" y1="903.34" x2="349.26" y2="915.77" stroke-width="1.12"/>
<line x1="378.5" y1="919.6" x2="367" y2="928.05" stroke-width="1.12"/>
<text class="a" transform="translate(419.35 825.62) scale(1 1.08)">O</text>
<text class="a" transform="translate(420.52 845.97) scale(1 1.08)">C</text>
<text class="a" transform="translate(375.85 845.62) scale(1 1.08)">H<tspan class="s" dy="2.9">2</tspan><tspan dy="-2.9">N</tspan></text>
<text class="a" transform="translate(404.82 852.57) scale(1 1.08)">C</text>
<text class="a" transform="translate(436.2 854.87) scale(1 1.08)">OH</text>
<text class="a" transform="translate(405.12 872.37) scale(1 1.08)">CH<tspan class="s" dy="2.9">2</tspan></text>
<text class="a" transform="translate(404.82 842.07) scale(1 1.08)">H</text>
<text class="a" transform="translate(373.3 870.62) scale(1 1.08)">O</text>
<text class="a" transform="translate(358.92 897.37) scale(1 1.08)">N</text>
<text class="a" transform="translate(358.72 886.57) scale(1 1.08)">H</text>
<text class="a" transform="translate(327.42 898.87) scale(1 1.08)">H</text>
<text class="a" transform="translate(343.3 926.07) scale(1 1.08)">O</text>
<text class="a" transform="translate(349.35 936.17) scale(1 1.08)">HO</text>
<rect x="23.5" y="21.6" width="98" height="99" fill="none" stroke="#141414" stroke-width="1.3" stroke-dasharray="3.8 3.25"/>
<rect x="23.5" y="140.3" width="98" height="98" fill="none" stroke="#141414" stroke-width="1.3" stroke-dasharray="3.8 3.25"/>
<rect x="23.5" y="258.8" width="98" height="116.2" fill="none" stroke="#141414" stroke-width="1.3" stroke-dasharray="3.8 3.25"/>
<rect x="192.6" y="390.5" width="100.4" height="98.9" fill="none" stroke="#161616" stroke-width="1" stroke-dasharray="3.5 3.15"/>
<rect x="190.5" y="518.5" width="103.1" height="132" fill="none" stroke="#161616" stroke-width="1" stroke-dasharray="3.8 3.25"/>
<line x1="132" y1="71.1" x2="169.6" y2="71.1" stroke-width="1.25"/>
<polygon points="178,71.1 168.2,74.65 169.6,71.1 168.2,67.55" fill="#0a0a0a"/>
<text class="o" text-anchor="middle" transform="translate(150.4 65.09) scale(1 1.08)">Ox</text>
<line x1="302.5" y1="69.6" x2="339.1" y2="69.6" stroke-width="1.25"/>
<polygon points="347.5,69.6 337.7,73.15 339.1,69.6 337.7,66.05" fill="#0a0a0a"/>
<text class="o" text-anchor="middle" transform="translate(319 64.99) scale(1 1.08)">Ox</text>
<line x1="132" y1="189.3" x2="169.6" y2="189.3" stroke-width="1.25"/>
<polygon points="178,189.3 168.2,192.85 169.6,189.3 168.2,185.75" fill="#0a0a0a"/>
<text class="o" text-anchor="middle" transform="translate(150.4 182.79) scale(1 1.08)">Ox</text>
<line x1="132" y1="321.3" x2="169.6" y2="321.3" stroke-width="1.25"/>
<polygon points="178,321.3 168.2,324.85 169.6,321.3 168.2,317.75" fill="#0a0a0a"/>
<text class="o" text-anchor="middle" transform="translate(150.6 316.89) scale(1 1.08)">Ox</text>
<line x1="301.75" y1="320" x2="338.35" y2="320" stroke-width="1.25"/>
<polygon points="346.75,320 336.95,323.55 338.35,320 336.95,316.45" fill="#0a0a0a"/>
<text class="o" text-anchor="middle" transform="translate(318.8 312.09) scale(1 1.08)">Ox</text>
<line x1="299.25" y1="439.3" x2="335.85" y2="439.3" stroke-width="1.25"/>
<polygon points="344.25,439.3 334.45,442.85 335.85,439.3 334.45,435.75" fill="#0a0a0a"/>
<text class="o" text-anchor="middle" transform="translate(318.8 432.49) scale(1 1.08)">Ox</text>
<line x1="476.25" y1="439.5" x2="513.1" y2="439.5" stroke-width="1.25"/>
<polygon points="521.5,439.5 511.7,443.05 513.1,439.5 511.7,435.95" fill="#0a0a0a"/>
<text class="o" text-anchor="middle" transform="translate(496.3 431.99) scale(1 1.08)">Ox</text>
<line x1="624.25" y1="439" x2="660.6" y2="439" stroke-width="1.25"/>
<polygon points="669,439 659.2,442.55 660.6,439 659.2,435.45" fill="#0a0a0a"/>
<text class="o" text-anchor="middle" transform="translate(645.2 433.99) scale(1 1.08)">Ox</text>
<line x1="300" y1="585.5" x2="337.1" y2="585.5" stroke-width="1.25"/>
<polygon points="345.5,585.5 335.7,589.05 337.1,585.5 335.7,581.95" fill="#0a0a0a"/>
<text class="o" text-anchor="middle" transform="translate(319 581.49) scale(1 1.08)">Ox</text>
<line x1="162.5" y1="584.5" x2="125.9" y2="584.5" stroke-width="1.25"/>
<polygon points="117.5,584.5 127.3,580.95 125.9,584.5 127.3,588.05" fill="#0a0a0a"/>
<text class="o" text-anchor="middle" transform="translate(141.7 575.79) scale(1 1.08)">Red</text>
<line x1="300" y1="739.4" x2="337.1" y2="739.4" stroke-width="1.25"/>
<polygon points="345.5,739.4 335.7,742.95 337.1,739.4 335.7,735.85" fill="#0a0a0a"/>
<text class="o" text-anchor="middle" transform="translate(319 733.29) scale(1 1.08)">Ox</text>
<line x1="300" y1="864.5" x2="337.1" y2="864.5" stroke-width="1.25"/>
<polygon points="345.5,864.5 335.7,868.05 337.1,864.5 335.7,860.95" fill="#0a0a0a"/>
<text class="o" text-anchor="middle" transform="translate(319 857.49) scale(1 1.08)">Ox</text>
<line x1="232.5" y1="664.7" x2="232.5" y2="677.3" stroke-width="1.3"/>
<polygon points="232.5,685.7 228.95,675.9 232.5,677.3 236.05,675.9" fill="#0a0a0a"/>
<text class="o" text-anchor="middle" transform="translate(215.3 680.59) scale(1 1.08)">Ox</text>
<line x1="233.5" y1="802.2" x2="233.5" y2="815.8" stroke-width="1.3"/>
<polygon points="233.5,824.2 229.95,814.4 233.5,815.8 237.05,814.4" fill="#0a0a0a"/>
<text class="o" text-anchor="middle" transform="translate(218 816.49) scale(1 1.08)">Ox</text>
<line x1="118.8" y1="449.6" x2="159" y2="449.6" stroke-width="1.3"/>
<line x1="159" y1="449.6" x2="149.8" y2="445.9" stroke-width="1.2"/>
<line x1="118.8" y1="452.5" x2="159" y2="452.5" stroke-width="1.3"/>
<line x1="118.8" y1="452.5" x2="128.2" y2="455.6" stroke-width="1.2"/>
<text class="o" text-anchor="middle" transform="translate(137.4 442.89) scale(1 1.08)">Ox</text>
<text class="o" text-anchor="middle" transform="translate(143 467.49) scale(1 1.08)">Red</text>
<text class="l" text-anchor="middle" transform="translate(94 110.07) scale(1 1)">Methionine</text>
<text class="l" text-anchor="middle" transform="translate(300 99.92) scale(1 1)">Methionine sulfoxide</text>
<text class="l" text-anchor="middle" transform="translate(300 110.67) scale(1 1)">(Δmass: +16)</text>
<text class="l" text-anchor="middle" transform="translate(471.3 103.67) scale(1 1)">Methionine sulfone</text>
<text class="l" text-anchor="middle" transform="translate(471.6 113.87) scale(1 1)">(Δmass: +32)</text>
<text class="l" text-anchor="middle" transform="translate(98 228.17) scale(1 1)">Histidine</text>
<text class="l" text-anchor="middle" transform="translate(288.4 223.67) scale(1 1)">2-oxo-histidine</text>
<text class="l" text-anchor="middle" transform="translate(288.6 233.27) scale(1 1)">(Δmass: +15)</text>
<text class="l" text-anchor="middle" transform="translate(101.9 364.42) scale(1 1)">Lysine</text>
<text class="l" text-anchor="middle" transform="translate(286.25 347.42) scale(1 1)">Aminoadipic</text>
<text class="l" text-anchor="middle" transform="translate(286.25 358.07) scale(1 1)">semialdehyde</text>
<text class="l" text-anchor="middle" transform="translate(286.25 368.07) scale(1 1)">(Δmass: -1)</text>
<text class="l" text-anchor="middle" transform="translate(471.5 350.67) scale(1 1)">Aminoadipic acid</text>
<text class="l" text-anchor="middle" transform="translate(471.6 360.67) scale(1 1)">(Δmass: +15)</text>
<text class="l" text-anchor="middle" transform="translate(113.25 475.67) scale(1 1)">Cystine</text>
<text class="l" text-anchor="middle" transform="translate(113.1 486.07) scale(1 1)">(Δmass: -2)</text>
<text class="l" text-anchor="middle" transform="translate(269.1 479.92) scale(1 1)">Cysteine</text>
<text class="l" text-anchor="middle" transform="translate(472.5 471.17) scale(1 1)">Cystine sulfoxide</text>
<text class="l" text-anchor="middle" transform="translate(472.9 481.27) scale(1 1)">(Δmass: +16)</text>
<text class="l" text-anchor="middle" transform="translate(627.5 471.92) scale(1 1)">Cystine sulfone</text>
<text class="l" text-anchor="middle" transform="translate(627.75 482.42) scale(1 1)">(Δmass: +32)</text>
<text class="l" text-anchor="middle" transform="translate(784.4 472.92) scale(1 1)">Cystine sulfonic acid</text>
<text class="l" text-anchor="middle" transform="translate(784 482.97) scale(1 1)">(Δmass: +48)</text>
<text class="l" text-anchor="middle" transform="translate(111 605.42) scale(1 1)">Reduced</text>
<text class="l" text-anchor="middle" transform="translate(111.25 615.57) scale(1 1)">tryptophan</text>
<text class="l" text-anchor="middle" transform="translate(111.9 626.17) scale(1 1)">(Δmass: +2)</text>
<text class="l" text-anchor="middle" transform="translate(265 641.17) scale(1 1)">Tryptophan</text>
<text class="l" text-anchor="middle" transform="translate(472.25 614.92) scale(1 1)">Hydroxy-tryptophan</text>
<text class="l" text-anchor="middle" transform="translate(472.5 625.67) scale(1 1)">(Δmass: +16)</text>
<text class="l" text-anchor="middle" transform="translate(289.4 766.17) scale(1 1)">Kynurenine</text>
<text class="l" text-anchor="middle" transform="translate(289.4 776.67) scale(1 1)">(Δmass: +4)</text>
<text class="l" text-anchor="middle" transform="translate(469.6 764.92) scale(1 1)">3-hydroxy-kynurenine</text>
<text class="l" text-anchor="middle" transform="translate(469.75 775.42) scale(1 1)">(Δmass: +20)</text>
<text class="l" text-anchor="middle" transform="translate(286.9 892.92) scale(1 1)">N-formyl</text>
<text class="l" text-anchor="middle" transform="translate(287.1 903.67) scale(1 1)">kynurenine</text>
<text class="l" text-anchor="middle" transform="translate(287.25 914.17) scale(1 1)">(Δmass: +32)</text>
<text class="l" text-anchor="middle" transform="translate(470.1 888.17) scale(1 1)">Hydroxy-N-formyl</text>
<text class="l" text-anchor="middle" transform="translate(469.7 898.87) scale(1 1)">kynurenine</text>
<text class="l" text-anchor="middle" transform="translate(470.25 909.17) scale(1 1)">(Δmass: +48)</text>
<text class="fig cj" x="296.7" y="971.6">图</text>
<text class="fig num" x="317.2" y="972.3">5</text>
<text class="fig cj" x="346.4 364.08 381.76 399.44 417.12 436 444.8 462.66 480.52 498.38 516.24 534.1" y="971.6">氨基酸氧化<tspan class="sl">/</tspan>还原相关杂质</text>
</svg>
</body>
</html>
